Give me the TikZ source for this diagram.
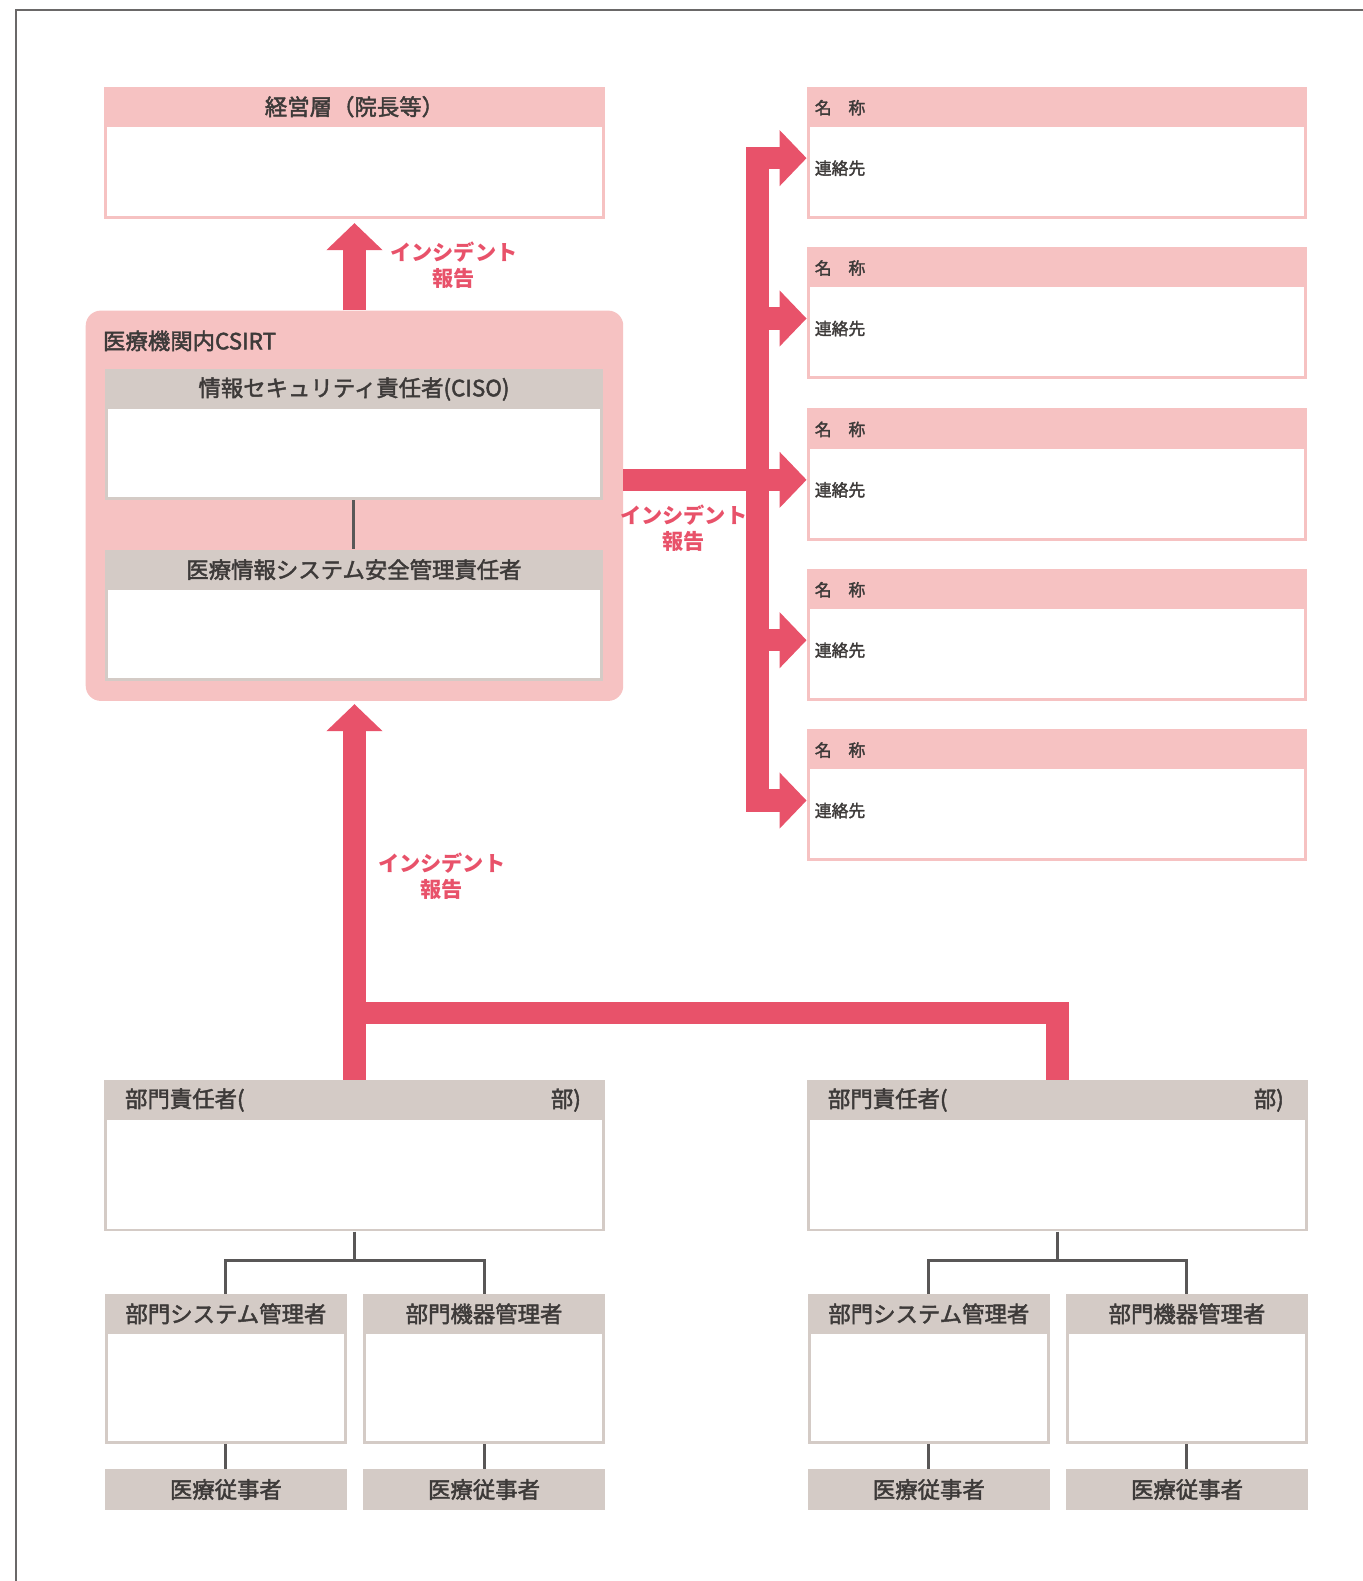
\documentclass[tikz,border=0pt]{standalone}
\usepackage{fontspec}
\setmainfont{Noto Sans CJK JP}
\newfontfamily\medfont[FakeBold=2]{Noto Sans CJK JP}
\usetikzlibrary{arrows.meta,calc,fit}
\definecolor{pinkh}{HTML}{F6C2C2}
\definecolor{grayh}{HTML}{D4CBC6}
\definecolor{redc}{HTML}{E8526A}
\definecolor{txt}{HTML}{3D3A39}
\definecolor{conc}{HTML}{595757}
\newcommand{\chartbox}[6]{%
  \node[fit={(#2,#3) (#4,#5)}, inner sep=0pt, fill=#6] (#1) {};
  \fill[white] ($(#1.north west)+(3,40)$) rectangle ($(#1.south east)+(-3,-3)$);
}
\begin{document}
\begin{tikzpicture}[x=1.0085pt,y=-1.0085pt,
  hdr/.style={font=\medfont\fontsize{22.4}{26}\selectfont, text=txt, inner sep=0pt},
  small/.style={font=\medfont\fontsize{16.8}{20}\selectfont, text=txt, inner sep=0pt, anchor=west},
  redlab/.style={font=\bfseries\fontsize{21.2}{25.5}\selectfont, text=redc, align=center, inner sep=0pt},
  redline/.style={line width=22.3pt, draw=redc, line join=miter},
  redarrow/.style={redline, -{Triangle[length=27pt,width=54.5pt]}},
  conn/.style={line width=3pt, draw=conc},
  frame/.style={line width=1.8pt, draw=conc!90}]
\useasboundingbox (0,0) rectangle (1351.5,1567.7);
\draw[frame] (1351.5,10) -| (15.5,1567.7);

% management
\chartbox{mgmt}{103}{86}{600}{217}{pinkh}
\node[hdr] (mgmtt) at ($(mgmt.north)+(0,20)$) {経営層（院長等）};

% CSIRT
\node[fit={(85,308) (618,695)}, inner sep=0pt, fill=pinkh, rounded corners=15pt] (csirt) {};
\node[hdr, anchor=west] (csirtt) at (102,338) {医療機関内CSIRT};
\chartbox{ciso}{104}{366}{598}{496}{grayh}
\node[hdr] (cisot) at ($(ciso.north)+(0,20)$) {情報セキュリティ責任者(CISO)};
\chartbox{sec}{104}{545}{598}{675}{grayh}
\node[hdr] (sect) at ($(sec.north)+(0,20)$) {医療情報システム安全管理責任者};
\draw[conn] (ciso.south) -- (sec.north);

% right boxes
\foreach \i/\t in {1/86,2/245,3/405,4/564,5/723}{
  \chartbox{r\i}{800}{\t}{1296}{\t+131}{pinkh}
  \node[small] (rn\i) at ($(r\i.north west)+(8,21)$) {名　称};
  \node[small] (rc\i) at ($(r\i.north west)+(8,81)$) {連絡先};
  \coordinate (a\i) at ($(r\i.north west)+(0,71)$);
}
\coordinate (bar) at (751,0);

% red arrows
\draw[redarrow] (csirt.north) -- ($(mgmt.south)+(0,4)$);
\node[redlab] (lab1) at (450,263) {インシデント\\報告};
\draw[redline, {Triangle[length=27pt,width=54.5pt]}-{Triangle[length=27pt,width=54.5pt]}] (a1) -| (bar |- a5) -- (a5);
\draw[redarrow] (bar |- a2) -- (a2);
\draw[redarrow] (bar |- a4) -- (a4);
\draw[redarrow] (csirt.east |- a3) -- (a3);
\node[redlab] (lab2) at (678,524) {インシデント\\報告};

% departments
\chartbox{deptL}{103}{1071}{600}{1221}{grayh}
\chartbox{deptR}{800}{1071}{1297}{1221}{grayh}
\node[hdr, anchor=west] (dLa) at ($(deptL.north west)+(21,20)$) {部門責任者(};
\node[hdr, anchor=east] (dLb) at ($(deptL.north east)+(-24,20)$) {部)};
\node[hdr, anchor=west] (dRa) at ($(deptR.north west)+(21,20)$) {部門責任者(};
\node[hdr, anchor=east] (dRb) at ($(deptR.north east)+(-24,20)$) {部)};

\draw[redarrow] (deptL.north) -- ($(csirt.south)+(0,3)$);
\draw[redline] (deptR.north) |- ($(deptL.north)+(0,-66)$);
\node[redlab] (lab3) at (438,869) {インシデント\\報告};

% sub boxes
\chartbox{sL1}{104}{1283}{344}{1432}{grayh}
\chartbox{sL2}{360}{1283}{600}{1432}{grayh}
\chartbox{sR1}{801}{1283}{1041}{1432}{grayh}
\chartbox{sR2}{1057}{1283}{1297}{1432}{grayh}
\node[hdr] (sL1t) at ($(sL1.north)+(0,20)$) {部門システム管理者};
\node[hdr] (sL2t) at ($(sL2.north)+(0,20)$) {部門機器管理者};
\node[hdr] (sR1t) at ($(sR1.north)+(0,20)$) {部門システム管理者};
\node[hdr] (sR2t) at ($(sR2.north)+(0,20)$) {部門機器管理者};

\foreach \n/\x in {fL1/104,fL2/360,fR1/801,fR2/1057}{
  \node[fit={(\x,1457) (\x+240,1497)}, inner sep=0pt, fill=grayh] (\n) {};
  \node[hdr] at (\n.center) {医療従事者};
}

% tree connectors
\draw[conn] (deptL.south) -- ($(deptL.south)+(0,29)$) coordinate (jL);
\draw[conn] (sL1.north) |- (jL) -| (sL2.north);
\draw[conn] (deptR.south) -- ($(deptR.south)+(0,29)$) coordinate (jR);
\draw[conn] (sR1.north) |- (jR) -| (sR2.north);
\draw[conn] (sL1.south) -- (fL1.north);
\draw[conn] (sL2.south) -- (fL2.north);
\draw[conn] (sR1.south) -- (fR1.north);
\draw[conn] (sR2.south) -- (fR2.north);
\end{tikzpicture}
\end{document}
